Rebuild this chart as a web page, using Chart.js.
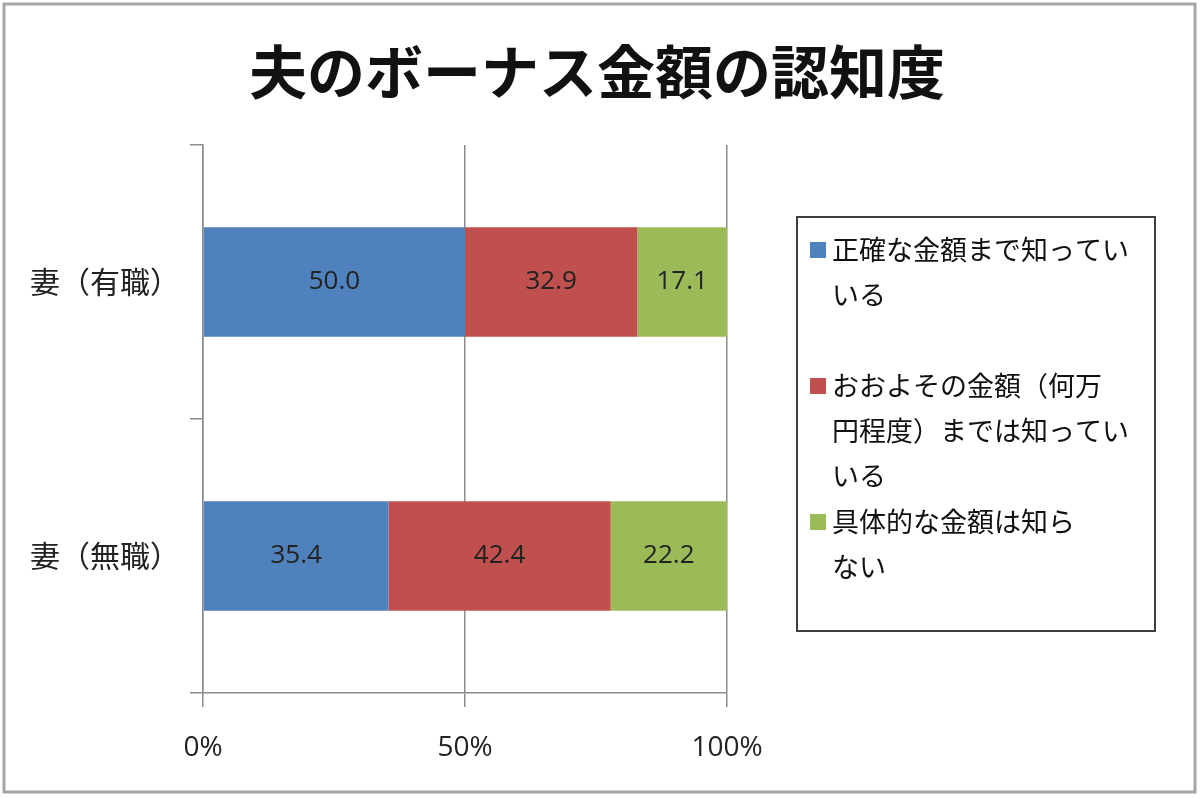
<!DOCTYPE html>
<html>
<head>
<meta charset="utf-8">
<script src="https://cdn.jsdelivr.net/npm/chart.js@4.4.0/dist/chart.umd.min.js"></script>
<style>
  html, body { margin: 0; padding: 0; background: #fff; }
  #wrap { width: 1200px; height: 799px; }
</style>
</head>
<body>
<div id="wrap"><canvas id="chart" width="1200" height="799"></canvas></div>
<script>
// data
const title = '夫のボーナス金額の認知度';
const categories = ['妻（有職）', '妻（無職）'];
const seriesNames = [
    ['正確な金額まで知ってい', 'いる'],
    ['おおよその金額（何万', '円程度）までは知ってい', 'いる'],
    ['具体的な金額は知ら', 'ない']
];
const exactValues = [50.0, 35.4];
const roughValues = [32.9, 42.4];
const unknownValues = [17.1, 22.2];
const xTicks = [0, 50, 100];
const colors = ['#4F81BD', '#C0504D', '#9BBB59'];

const jpFont = '"Noto Sans CJK JP", "Noto Sans", sans-serif';
const numFont = '"Open Sans", "DejaVu Sans", sans-serif';

// frame, title, value labels and the boxed legend
const decorations = {
    id: 'decorations',
    beforeDraw(chart) {
        const ctx = chart.ctx;
        ctx.save();
        ctx.fillStyle = '#fff';
        ctx.fillRect(0, 0, chart.width, chart.height);
        ctx.strokeStyle = '#a6a6a6';
        ctx.lineWidth = 3;
        ctx.strokeRect(4, 4, 1191, 788);
        ctx.restore();
    },
    afterDatasetsDraw(chart) {
        const ctx = chart.ctx;
        ctx.save();
        ctx.font = '26px ' + numFont;
        ctx.fillStyle = '#222';
        ctx.textAlign = 'center';
        ctx.textBaseline = 'middle';
        chart.data.datasets.forEach((ds, i) => {
            chart.getDatasetMeta(i).data.forEach((bar, j) => {
                ctx.fillText(ds.data[j].toFixed(1), (bar.x + bar.base) / 2, bar.y);
            });
        });
        ctx.restore();
    },
    afterDraw(chart) {
        const ctx = chart.ctx;
        const area = chart.chartArea;
        ctx.save();

        // title
        ctx.font = 'bold 58px ' + jpFont;
        ctx.fillStyle = '#111';
        ctx.textAlign = 'center';
        ctx.textBaseline = 'middle';
        ctx.fillText(title, 597, 72);

        // legend box
        const boxX = area.right + 70;
        const boxY = 217;
        const boxW = 358;
        const boxH = 414;
        ctx.strokeStyle = '#404040';
        ctx.lineWidth = 2;
        ctx.strokeRect(boxX, boxY, boxW, boxH);

        ctx.font = '27px ' + jpFont;
        ctx.textAlign = 'left';
        ctx.textBaseline = 'middle';
        const slot = 136;
        const lineH = 45;
        chart.data.datasets.forEach((ds, i) => {
            const y0 = boxY + 33 + i * slot;
            ctx.fillStyle = ds.backgroundColor;
            ctx.fillRect(boxX + 13, y0 - 8, 16, 16);
            ctx.fillStyle = '#111';
            ds.label.forEach((line, k) => {
                ctx.fillText(line, boxX + 35, y0 + k * lineH);
            });
        });
        ctx.restore();
    }
};

const ctx = document.getElementById('chart').getContext('2d');
new Chart(ctx, {
    type: 'bar',
    data: {
        labels: categories,
        datasets: [
            { label: seriesNames[0], data: exactValues, backgroundColor: colors[0] },
            { label: seriesNames[1], data: roughValues, backgroundColor: colors[1] },
            { label: seriesNames[2], data: unknownValues, backgroundColor: colors[2] }
        ]
    },
    options: {
        indexAxis: 'y',
        responsive: false,
        animation: false,
        categoryPercentage: 0.4,
        barPercentage: 1.0,
        layout: { padding: { left: 0, top: 145, right: 473, bottom: 0 } },
        plugins: {
            legend: { display: false },
            title: { display: false },
            tooltip: { enabled: false }
        },
        scales: {
            x: {
                stacked: true,
                min: 0,
                max: 100,
                afterBuildTicks(scale) {
                    scale.ticks = xTicks.map(v => ({ value: v }));
                },
                afterFit(scale) { scale.height = 106; },
                ticks: {
                    callback: v => v + '%',
                    color: '#222',
                    padding: 24,
                    font: { size: 28, family: numFont }
                },
                grid: { color: '#8c8c8c', lineWidth: 1.5, tickLength: 14 },
                border: { color: '#8c8c8c', width: 1.5 }
            },
            y: {
                stacked: true,
                afterFit(scale) { scale.width = 203; },
                ticks: {
                    color: '#222',
                    padding: 10,
                    font: { size: 30, family: jpFont }
                },
                grid: { drawOnChartArea: false, color: '#8c8c8c', lineWidth: 1.5, tickLength: 13 },
                border: { color: '#8c8c8c', width: 1.5 }
            }
        }
    },
    plugins: [decorations]
});
</script>
</body>
</html>
